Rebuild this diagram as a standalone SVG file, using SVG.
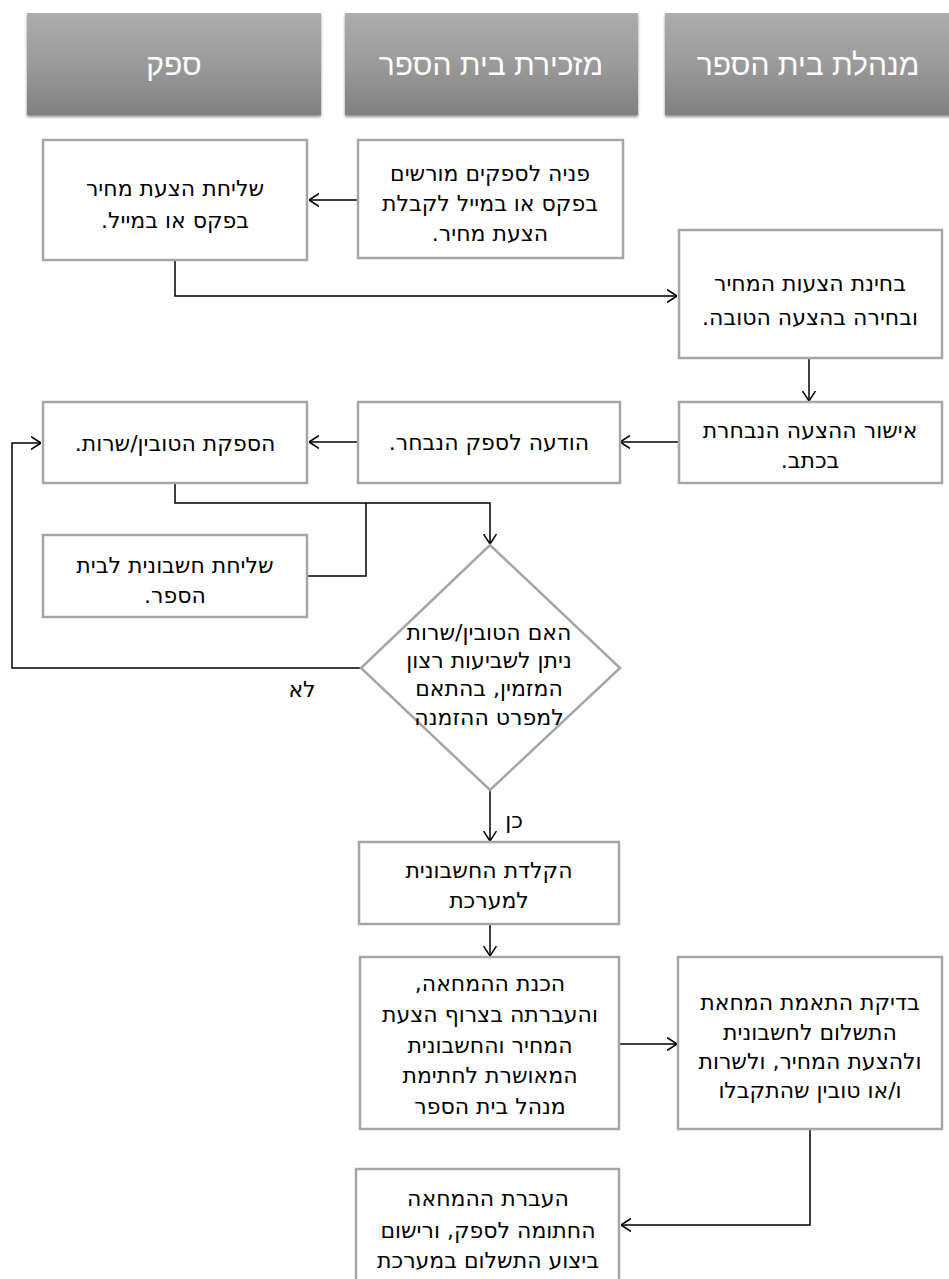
<svg xmlns="http://www.w3.org/2000/svg" width="949" height="1279" viewBox="0 0 949 1279">
<defs>
  <linearGradient id="hg" x1="0" y1="0" x2="0" y2="1">
    <stop offset="0" stop-color="#acacac"/>
    <stop offset="0.5" stop-color="#9a9a9a"/>
    <stop offset="1" stop-color="#808080"/>
  </linearGradient>
  <filter id="sh" x="-5%" y="-5%" width="110%" height="120%">
    <feDropShadow dx="0" dy="2" stdDeviation="1.5" flood-color="#000" flood-opacity="0.45"/>
  </filter>
  <marker id="ar" markerUnits="userSpaceOnUse" viewBox="0 0 10 14" refX="10" refY="7" markerWidth="10" markerHeight="14" orient="auto">
    <path d="M0,0.5 L10,7 L0,13.5" fill="none" stroke="#000" stroke-width="1.5"/>
  </marker>
</defs>
<style>
  .hdr rect { fill: url(#hg); filter: url(#sh); }
  .hdr text { fill: #fff; font-family: "Liberation Sans", "DejaVu Sans", sans-serif; font-size: 30px; text-anchor: middle; direction: rtl; unicode-bidi: embed; }
  .box { fill: #fff; stroke: #a6a6a6; stroke-width: 2.5; }
  .t { fill: #000; font-family: "DejaVu Sans", "Liberation Sans", sans-serif; font-size: 22px; text-anchor: middle; direction: rtl; unicode-bidi: embed; }
  .lbl { fill: #000; font-family: "DejaVu Sans", "Liberation Sans", sans-serif; font-size: 22px; text-anchor: middle; direction: rtl; unicode-bidi: embed; }
  .c { fill: none; stroke: #000; stroke-width: 1.5; }
  .ca { fill: none; stroke: #000; stroke-width: 1.5; marker-end: url(#ar); }
</style>

<g id="header-supplier" class="hdr">
  <rect x="27" y="13" width="294" height="102"/>
  <text x="174" y="75">ספק</text>
</g>
<g id="header-secretary" class="hdr">
  <rect x="345" y="13" width="293" height="102"/>
  <text x="491" y="75">מזכירת בית הספר</text>
</g>
<g id="header-manager" class="hdr">
  <rect x="665" y="13" width="292" height="102"/>
  <text x="808" y="75">מנהלת בית הספר</text>
</g>

<g id="connectors">
  <path class="ca" d="M358,200 H309"/>
  <path class="ca" d="M175,260 V296 H677"/>
  <path class="ca" d="M809,358 V401"/>
  <path class="ca" d="M679,442 H620"/>
  <path class="ca" d="M358,442 H309"/>
  <path class="ca" d="M361,668 H12 V443 H41"/>
  <path class="ca" d="M175,483 V503 H490 V544"/>
  <path class="c" d="M307,576 H366 V503"/>
  <path class="ca" d="M490,790 V841"/>
  <path class="ca" d="M490,924 V956"/>
  <path class="ca" d="M619,1044 H677"/>
  <path class="ca" d="M810,1129 V1225 H621"/>
</g>

<g id="n-send-quote">
  <rect class="box" x="43" y="140" width="264" height="120"/>
  <text class="t" x="175" y="196">שליחת הצעת מחיר</text>
  <text class="t" x="175" y="228">בפקס או במייל.</text>
</g>
<g id="n-contact-suppliers">
  <rect class="box" x="358" y="140" width="265" height="118"/>
  <text class="t" x="490" y="181">פניה לספקים מורשים</text>
  <text class="t" x="490" y="211">בפקס או במייל לקבלת</text>
  <text class="t" x="490" y="241">הצעת מחיר.</text>
</g>
<g id="n-review-quotes">
  <rect class="box" x="679" y="230" width="263" height="128"/>
  <text class="t" x="810" y="291">בחינת הצעות המחיר</text>
  <text class="t" x="810" y="325">ובחירה בהצעה הטובה.</text>
</g>
<g id="n-approve">
  <rect class="box" x="679" y="402" width="263" height="81"/>
  <text class="t" x="810" y="438">אישור ההצעה הנבחרת</text>
  <text class="t" x="810" y="468">בכתב.</text>
</g>
<g id="n-notify">
  <rect class="box" x="358" y="402" width="262" height="81"/>
  <text class="t" x="489" y="450">הודעה לספק הנבחר.</text>
</g>
<g id="n-supply">
  <rect class="box" x="43" y="402" width="264" height="81"/>
  <text class="t" x="175" y="451">הספקת הטובין/שרות.</text>
</g>
<g id="n-send-invoice">
  <rect class="box" x="43" y="535" width="264" height="82"/>
  <text class="t" x="175" y="573">שליחת חשבונית לבית</text>
  <text class="t" x="175" y="603">הספר.</text>
</g>
<g id="n-decision">
  <polygon points="490,545 620,668 490,790 361,668" fill="#fff" stroke="#a6a6a6" stroke-width="2.5"/>
  <text class="t" x="489" y="640">האם הטובין/שרות</text>
  <text class="t" x="489" y="668">ניתן לשביעות רצון</text>
  <text class="t" x="489" y="696">המזמין, בהתאם</text>
  <text class="t" x="489" y="725">למפרט ההזמנה</text>
  <text class="lbl" x="302" y="697">לא</text>
  <text class="lbl" x="514" y="828">כן</text>
</g>
<g id="n-enter-invoice">
  <rect class="box" x="359" y="842" width="260" height="82"/>
  <text class="t" x="489" y="878">הקלדת החשבונית</text>
  <text class="t" x="489" y="908">למערכת</text>
</g>
<g id="n-prepare-check">
  <rect class="box" x="360" y="957" width="259" height="172"/>
  <text class="t" x="490" y="991">הכנת ההמחאה,</text>
  <text class="t" x="490" y="1022">והעברתה בצרוף הצעת</text>
  <text class="t" x="490" y="1053">המחיר והחשבונית</text>
  <text class="t" x="490" y="1083">המאושרת לחתימת</text>
  <text class="t" x="490" y="1114">מנהל בית הספר</text>
</g>
<g id="n-verify">
  <rect class="box" x="678" y="957" width="264" height="172"/>
  <text class="t" x="810" y="1010">בדיקת התאמת המחאת</text>
  <text class="t" x="810" y="1040">התשלום לחשבונית</text>
  <text class="t" x="810" y="1069">ולהצעת המחיר, ולשרות</text>
  <text class="t" x="810" y="1098">ו/או טובין שהתקבלו</text>
</g>
<g id="n-transfer-check">
  <rect class="box" x="356" y="1169" width="263" height="140"/>
  <text class="t" x="488" y="1206">העברת ההמחאה</text>
  <text class="t" x="488" y="1238">החתומה לספק, ורישום</text>
  <text class="t" x="488" y="1268">ביצוע התשלום במערכת</text>
</g>
</svg>
